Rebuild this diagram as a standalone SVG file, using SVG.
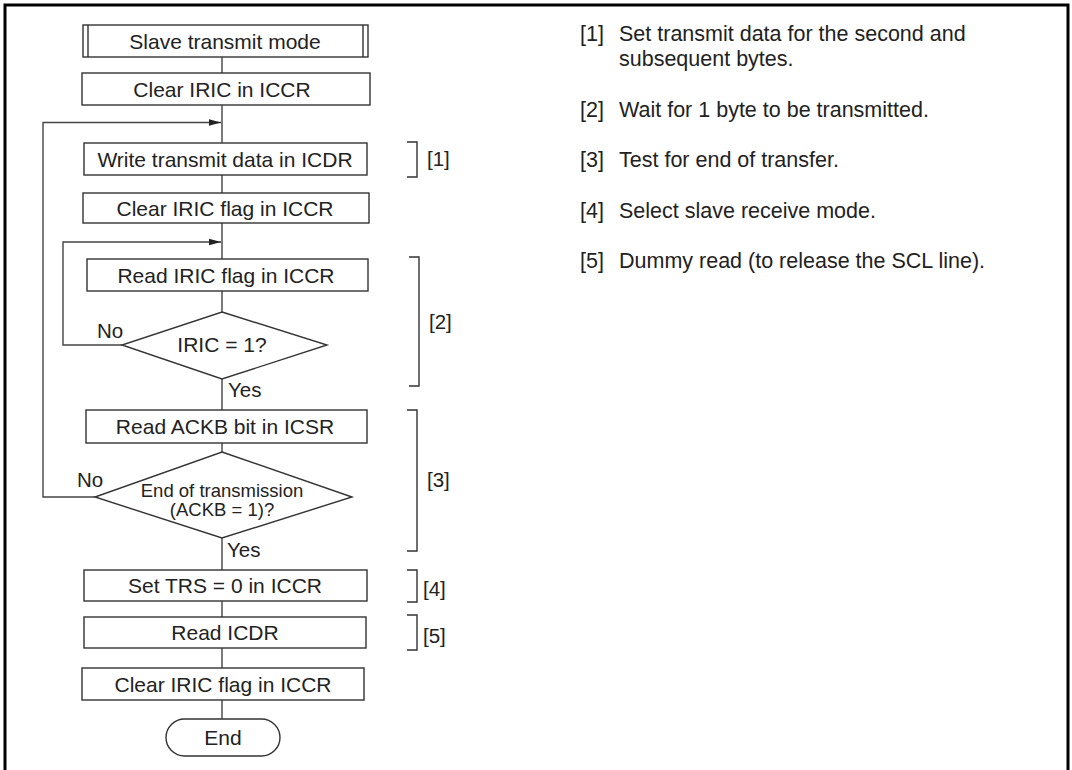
<svg xmlns="http://www.w3.org/2000/svg" width="1072" height="770" viewBox="0 0 1072 770">
<style>
.box{fill:#fff;stroke:#333;stroke-width:1.4}
.ln{fill:none;stroke:#444;stroke-width:1.4}
.br{fill:none;stroke:#333;stroke-width:1.4}
text{font-family:"Liberation Sans",Arial,sans-serif;fill:#222}
.t{font-size:21px;text-anchor:middle}
.s{font-size:20.5px}
.d{font-size:18.5px;text-anchor:middle}
.r{font-size:21.5px}
</style>
<defs>
<marker id="ah" markerWidth="12" markerHeight="8" refX="12" refY="4" orient="auto" markerUnits="userSpaceOnUse">
<path d="M0,0.8 L12,4 L0,7.2 Z" fill="#222"/>
</marker>
</defs>
<rect x="5" y="5" width="1063" height="800" fill="#fff" stroke="#000" stroke-width="3"/>
<g id="connectors">
<path class="ln" d="M222,57 V73 M222,105 V143 M222,175 V193 M222,223 V259 M222,291 V312 M222,379 V410 M222,443 V452 M222,538 V570 M222,601 V617 M222,648 V668 M222,700 V719"/>
<path class="ln" d="M95,497 H43 V122.5 H221" marker-end="url(#ah)"/>
<path class="ln" d="M122,345 H63 V242 H221" marker-end="url(#ah)"/>
<text class="s" x="97" y="338">No</text>
<text class="s" x="77" y="487">No</text>
<text class="s" x="228" y="397">Yes</text>
<text class="s" x="227" y="557">Yes</text>
</g>
<g id="n-start"><rect class="box" x="83" y="25" width="285" height="32"/><path class="box" d="M88,25 V57 M363,25 V57"/><text class="t" x="225" y="48.5">Slave transmit mode</text></g>
<g id="n-clear1"><rect class="box" x="82" y="73" width="288" height="32"/><text class="t" x="222" y="96.5">Clear IRIC in ICCR</text></g>
<g id="n-write"><rect class="box" x="84" y="143" width="283" height="32"/><text class="t" x="225" y="166.5">Write transmit data in ICDR</text></g>
<g id="n-clear2"><rect class="box" x="83" y="193" width="286" height="30"/><text class="t" x="225" y="215.5">Clear IRIC flag in ICCR</text></g>
<g id="n-read1"><rect class="box" x="87" y="259" width="281" height="32"/><text class="t" x="226" y="282.5">Read IRIC flag in ICCR</text></g>
<g id="n-dec1"><polygon class="box" points="222,312 327,345 222,379 122,345"/><text class="t" x="222" y="352">IRIC = 1?</text></g>
<g id="n-read2"><rect class="box" x="86" y="410" width="281" height="33"/><text class="t" x="225" y="434">Read ACKB bit in ICSR</text></g>
<g id="n-dec2"><polygon class="box" points="222,452 352,497 222,538 95,497"/><text class="d" x="222" y="497">End of transmission</text><text class="d" x="222" y="516">(ACKB = 1)?</text></g>
<g id="n-trs"><rect class="box" x="84" y="570" width="283" height="31"/><text class="t" x="225" y="593">Set TRS = 0 in ICCR</text></g>
<g id="n-readicdr"><rect class="box" x="84" y="617" width="282" height="31"/><text class="t" x="225" y="640">Read ICDR</text></g>
<g id="n-clear3"><rect class="box" x="82" y="668" width="282" height="32"/><text class="t" x="223" y="691.5">Clear IRIC flag in ICCR</text></g>
<g id="n-end"><rect class="box" x="166" y="719" width="114" height="37" rx="18.5"/><text class="t" x="223" y="745">End</text></g>
<g id="brackets">
<path class="br" d="M407,142 H417 V177 H407"/><text class="s" x="427" y="166">[1]</text>
<path class="br" d="M409,257 H419 V386 H409"/><text class="s" x="429" y="329">[2]</text>
<path class="br" d="M407,410 H417 V551 H407"/><text class="s" x="427" y="487">[3]</text>
<path class="br" d="M407,570 H417 V602 H407"/><text class="s" x="423" y="596">[4]</text>
<path class="br" d="M407,615 H417 V650 H407"/><text class="s" x="423" y="643">[5]</text>
</g>
<g id="notes">
<text class="r" x="580" y="41">[1]</text><text class="r" x="619" y="41">Set transmit data for the second and</text>
<text class="r" x="619" y="66">subsequent bytes.</text>
<text class="r" x="580" y="117">[2]</text><text class="r" x="619" y="117">Wait for 1 byte to be transmitted.</text>
<text class="r" x="580" y="167">[3]</text><text class="r" x="619" y="167">Test for end of transfer.</text>
<text class="r" x="580" y="218">[4]</text><text class="r" x="619" y="218">Select slave receive mode.</text>
<text class="r" x="580" y="268">[5]</text><text class="r" x="619" y="268">Dummy read (to release the SCL line).</text>
</g>
</svg>
